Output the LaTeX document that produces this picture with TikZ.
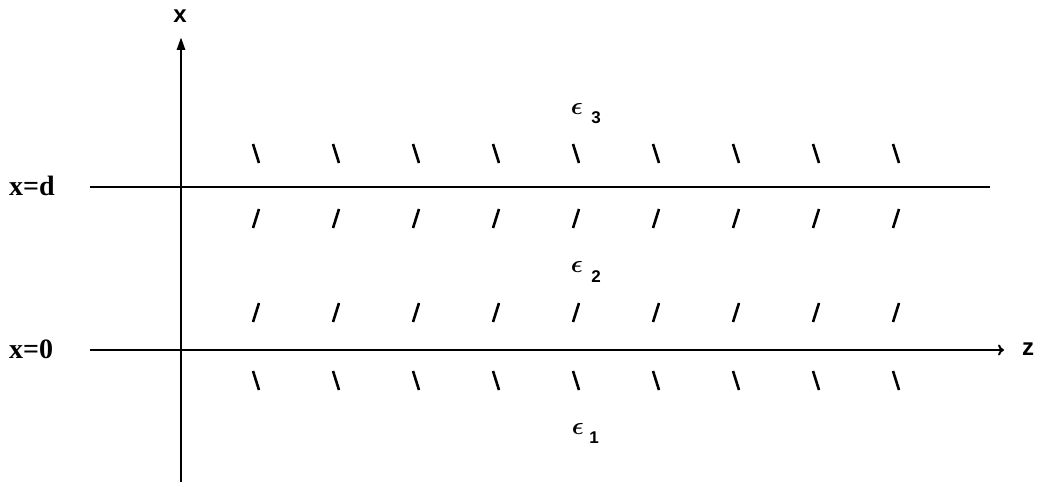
\documentclass[tikz,border=0pt]{standalone}
\usepackage{fontspec}
\setmainfont{Liberation Serif}
\setsansfont{Liberation Sans}
\usetikzlibrary{arrows.meta}
\tikzset{
  axisline/.style={line width=2.8pt},
  boundary/.style={line width=2.2pt},
  tick/.style={line width=2.6pt},
  sidelabel/.style={font=\fontsize{28}{30}\selectfont\bfseries, inner sep=0pt},
  axislabel/.style={font=\sffamily\fontsize{24}{26}\selectfont\bfseries, inner sep=0pt},
  eps/.style={inner sep=0pt, font=\fontsize{29}{30}\selectfont\boldmath},
  sub/.style={inner sep=0pt, font=\sffamily\bfseries\fontsize{17}{18}\selectfont}
}
\begin{document}
\begin{tikzpicture}[x=1pt,y=-1pt]
\useasboundingbox (0,0) rectangle (1041,487);
% coordinates
\coordinate (ybot) at (181,482);
\coordinate (ytop) at (181,37);
\coordinate (dl) at (90,187);
\coordinate (dr) at (990,187);
\coordinate (zl) at (90,350);
\coordinate (zr) at (1004,350);
% axes and boundaries
\draw[axisline,-{Triangle[length=13pt,width=8pt]}] (ybot) -- (ytop);
\draw[boundary] (dl) -- (dr);
\draw[boundary,-{To[length=6pt,width=11pt,line width=2pt]}] (zl) -- (zr);
% labels
\node[axislabel] (xlab) at (180,16) {x};
\node[axislabel] (zlab) at (1028,349) {z};
\node[sidelabel, anchor=base west] (xd) at (9,195) {x=d};
\node[sidelabel, anchor=base west] (x0) at (9,358) {x=0};
% epsilons
\node[eps] (e3) at (577,109) {$\epsilon$};
\node[sub] (s3) at (596,118) {3};
\node[eps] (e2) at (577,267) {$\epsilon$};
\node[sub] (s2) at (596,277) {2};
\node[eps] (e1) at (578,429) {$\epsilon$};
\node[sub] (s1) at (594,438) {1};
% ticks
\foreach \i in {0,...,8} {
  \pgfmathsetmacro{\xx}{256+80*\i}
  \draw[tick] (\xx-3,144) -- (\xx+3,163);
  \draw[tick] (\xx+3,209) -- (\xx-3,228);
  \draw[tick] (\xx+3,303) -- (\xx-3,322);
  \draw[tick] (\xx-3,371) -- (\xx+3,390);
}
\end{tikzpicture}
\end{document}
